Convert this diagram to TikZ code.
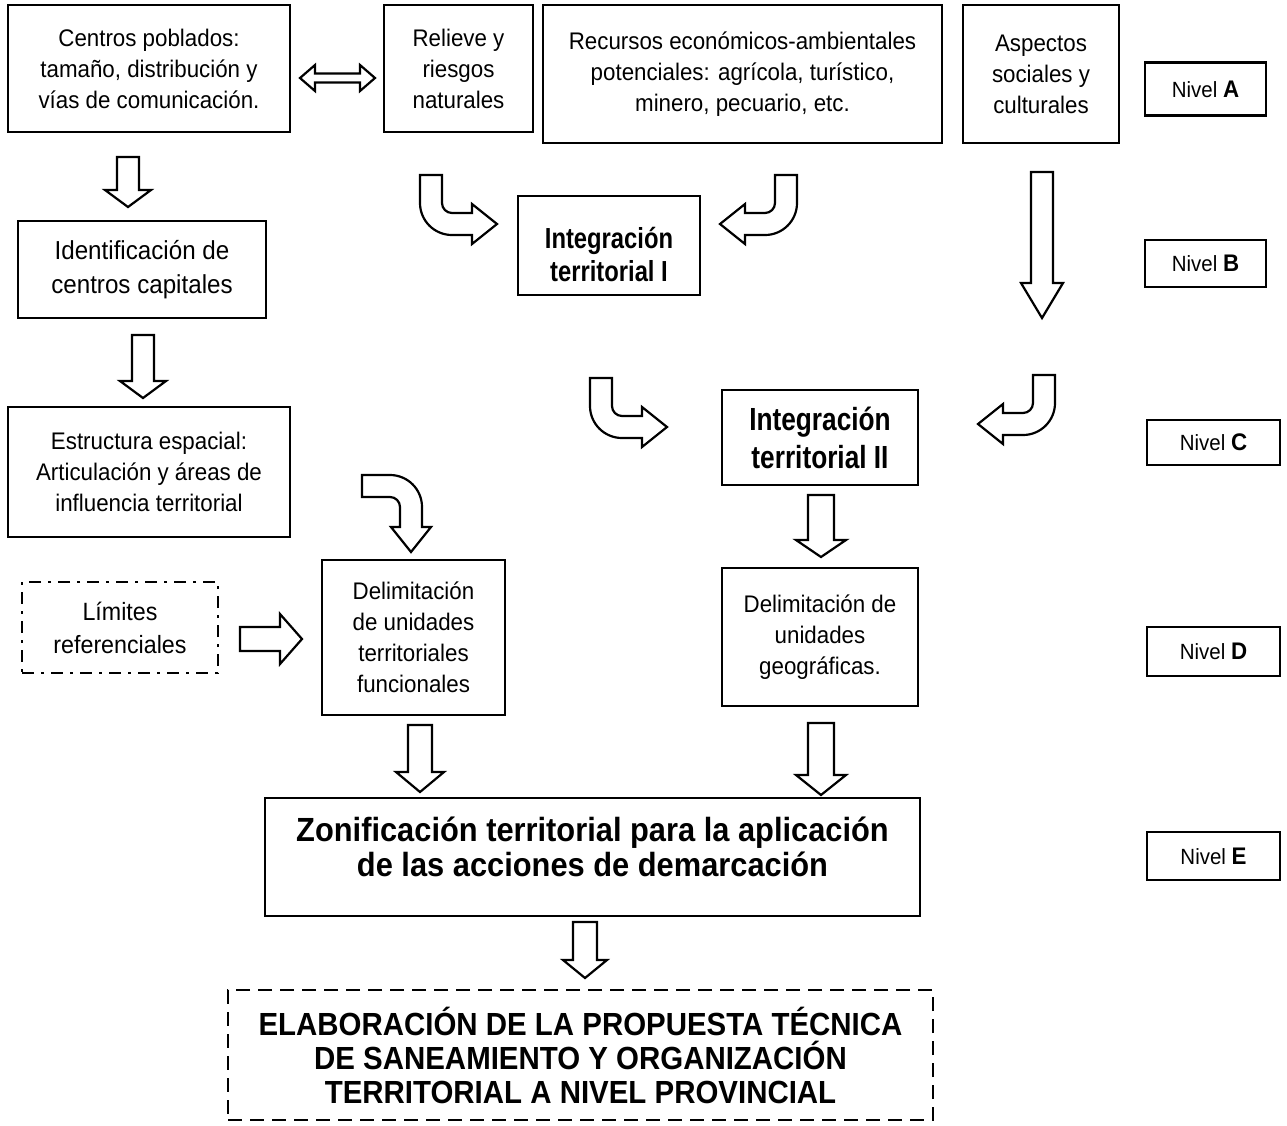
\documentclass[tikz,border=0pt]{standalone}
\usepackage{fontspec}
\setmainfont{Liberation Sans}[FakeStretch=0.93]
\newfontfamily\narrowbf{Liberation Sans}[FakeStretch=0.82]
\newfontfamily\semibf{Liberation Sans}[FakeStretch=0.92]
\begin{document}
\begin{tikzpicture}[x=1pt,y=-1pt,
  box/.style={draw,line width=2.8pt,inner sep=0pt,align=center,font=\fontsize{24}{31}\selectfont},
  nivel/.style={draw,line width=2.2pt,inner sep=0pt,align=center,font=\fontsize{22}{26}\selectfont},
  blk/.style={draw,fill=white,line width=2.2pt,line join=miter}]
\useasboundingbox (0,0) rectangle (1287,1125);
\newcommand\bx[6]{\node[box,#6,minimum width=#3-#1,minimum height=#4-#2] (#5) at ({(#1+#3)/2},{(#2+#4)/2})}
\newcommand\blkdown[6]{\draw[blk] (#1-#4,#2) -- (#1+#4,#2) -- (#1+#4,#3-#6) -- (#1+#5,#3-#6) -- (#1,#3) -- (#1-#5,#3-#6) -- (#1-#4,#3-#6) -- cycle;}
\newcommand\curvpath{(0,0) -- (22,0) -- (22,28) arc[start angle=180,end angle=90,radius=10] -- (52,38) -- (52,29) -- (77,49) -- (52,69) -- (52,60) -- (32,60) arc[start angle=90,end angle=180,radius=32] -- cycle}

% Level A boxes
\bx{8}{5}{290}{132}{centros}{}{Centros poblados:\\tamaño, distribución y\\vías de comunicación.};
\bx{384}{5}{533}{132}{relieve}{}{Relieve y\\riesgos\\naturales};
\bx{543}{5}{942}{143}{recursos}{}{Recursos económicos-ambientales\\potenciales: agrícola, turístico,\\minero, pecuario, etc.};
\bx{963}{5}{1119}{143}{aspectos}{}{Aspectos\\sociales y\\culturales};

% Level B
\bx{18}{221}{266}{318}{ident}{font=\fontsize{26}{34}\selectfont}{Identificación de\\centros capitales};
\bx{518}{196}{700}{295}{intI}{font=\narrowbf\bfseries\fontsize{29}{33}\selectfont}{\rule{0pt}{40pt}Integración\\territorial I};

% Level C
\bx{8}{407}{290}{537}{estructura}{}{Estructura espacial:\\Articulación y áreas de\\influencia territorial};
\bx{722}{390}{918}{485}{intII}{font=\narrowbf\bfseries\fontsize{32}{38}\selectfont}{Integración\\territorial II};

% Level D
\bx{22}{582}{218}{673}{limites}{line width=2.8pt,dash pattern=on 12pt off 7pt on 3pt off 7pt,font=\fontsize{25}{33}\selectfont}{Límites\\referenciales};
\bx{322}{560}{505}{715}{delimF}{}{Delimitación\\de unidades\\territoriales\\funcionales};
\bx{722}{568}{918}{706}{delimG}{}{Delimitación de\\unidades\\geográficas.};

% Level E
\bx{265}{798}{920}{916}{zonif}{font=\semibf\bfseries\fontsize{33.5}{35}\selectfont}{Zonificación territorial para la aplicación\\de las acciones de demarcación\\[-15pt]};
\bx{228}{990}{933}{1120}{final}{line width=2.8pt,dash pattern=on 14pt off 8pt,font=\semibf\bfseries\fontsize{32}{34}\selectfont}{ELABORACIÓN DE LA PROPUESTA TÉCNICA\\DE SANEAMIENTO Y ORGANIZACIÓN\\TERRITORIAL A NIVEL PROVINCIAL};

% Nivel labels
\node[nivel,minimum width=121,minimum height=53] (nA) at (1205.5,89) {Nivel {\fontsize{24}{26}\selectfont\bfseries A}};
\node[nivel,minimum width=121,minimum height=47] (nB) at (1205.5,263.5) {Nivel {\fontsize{24}{26}\selectfont\bfseries B}};
\node[nivel,minimum width=133,minimum height=45] (nC) at (1213.5,442.5) {Nivel {\fontsize{24}{26}\selectfont\bfseries C}};
\node[nivel,minimum width=133,minimum height=49] (nD) at (1213.5,651.5) {Nivel {\fontsize{24}{26}\selectfont\bfseries D}};
\node[nivel,minimum width=133,minimum height=48] (nE) at (1213.5,856) {Nivel {\fontsize{24}{26}\selectfont\bfseries E}};

% double arrow between Centros and Relieve
\draw[blk] (300,78) -- (315,65) -- (315,73.5) -- (360,73.5) -- (360,65) -- (375,78) -- (360,91) -- (360,82.5) -- (315,82.5) -- (315,91) -- cycle;

% straight block arrows
\blkdown{128}{157}{207}{11}{23}{17}
\blkdown{143}{335}{398}{11}{23}{17}
\blkdown{1042}{172}{318}{11}{21}{35}
\blkdown{821}{495}{557}{13}{25}{17}
\blkdown{420}{725}{792}{12}{24}{20}
\blkdown{821}{723}{795}{13}{25}{20}
\blkdown{585}{922}{978}{12}{22}{18}
% right arrow from Limites
\draw[blk] (240,627) -- (280,627) -- (280,614) -- (302,639) -- (280,664) -- (280,651) -- (240,651) -- cycle;

% curved arrows
\begin{scope}[shift={(420,175)}] \draw[blk] \curvpath; \end{scope}
\begin{scope}[shift={(797,175)},xscale=-1] \draw[blk] \curvpath; \end{scope}
\begin{scope}[shift={(590,378)}] \draw[blk] \curvpath; \end{scope}
\begin{scope}[shift={(1055,375)},xscale=-1] \draw[blk] \curvpath; \end{scope}
\begin{scope}[shift={(362,475)},cm={0,-1,-1,0,(0,0)}] \draw[blk] \curvpath; \end{scope}
\end{tikzpicture}
\end{document}
